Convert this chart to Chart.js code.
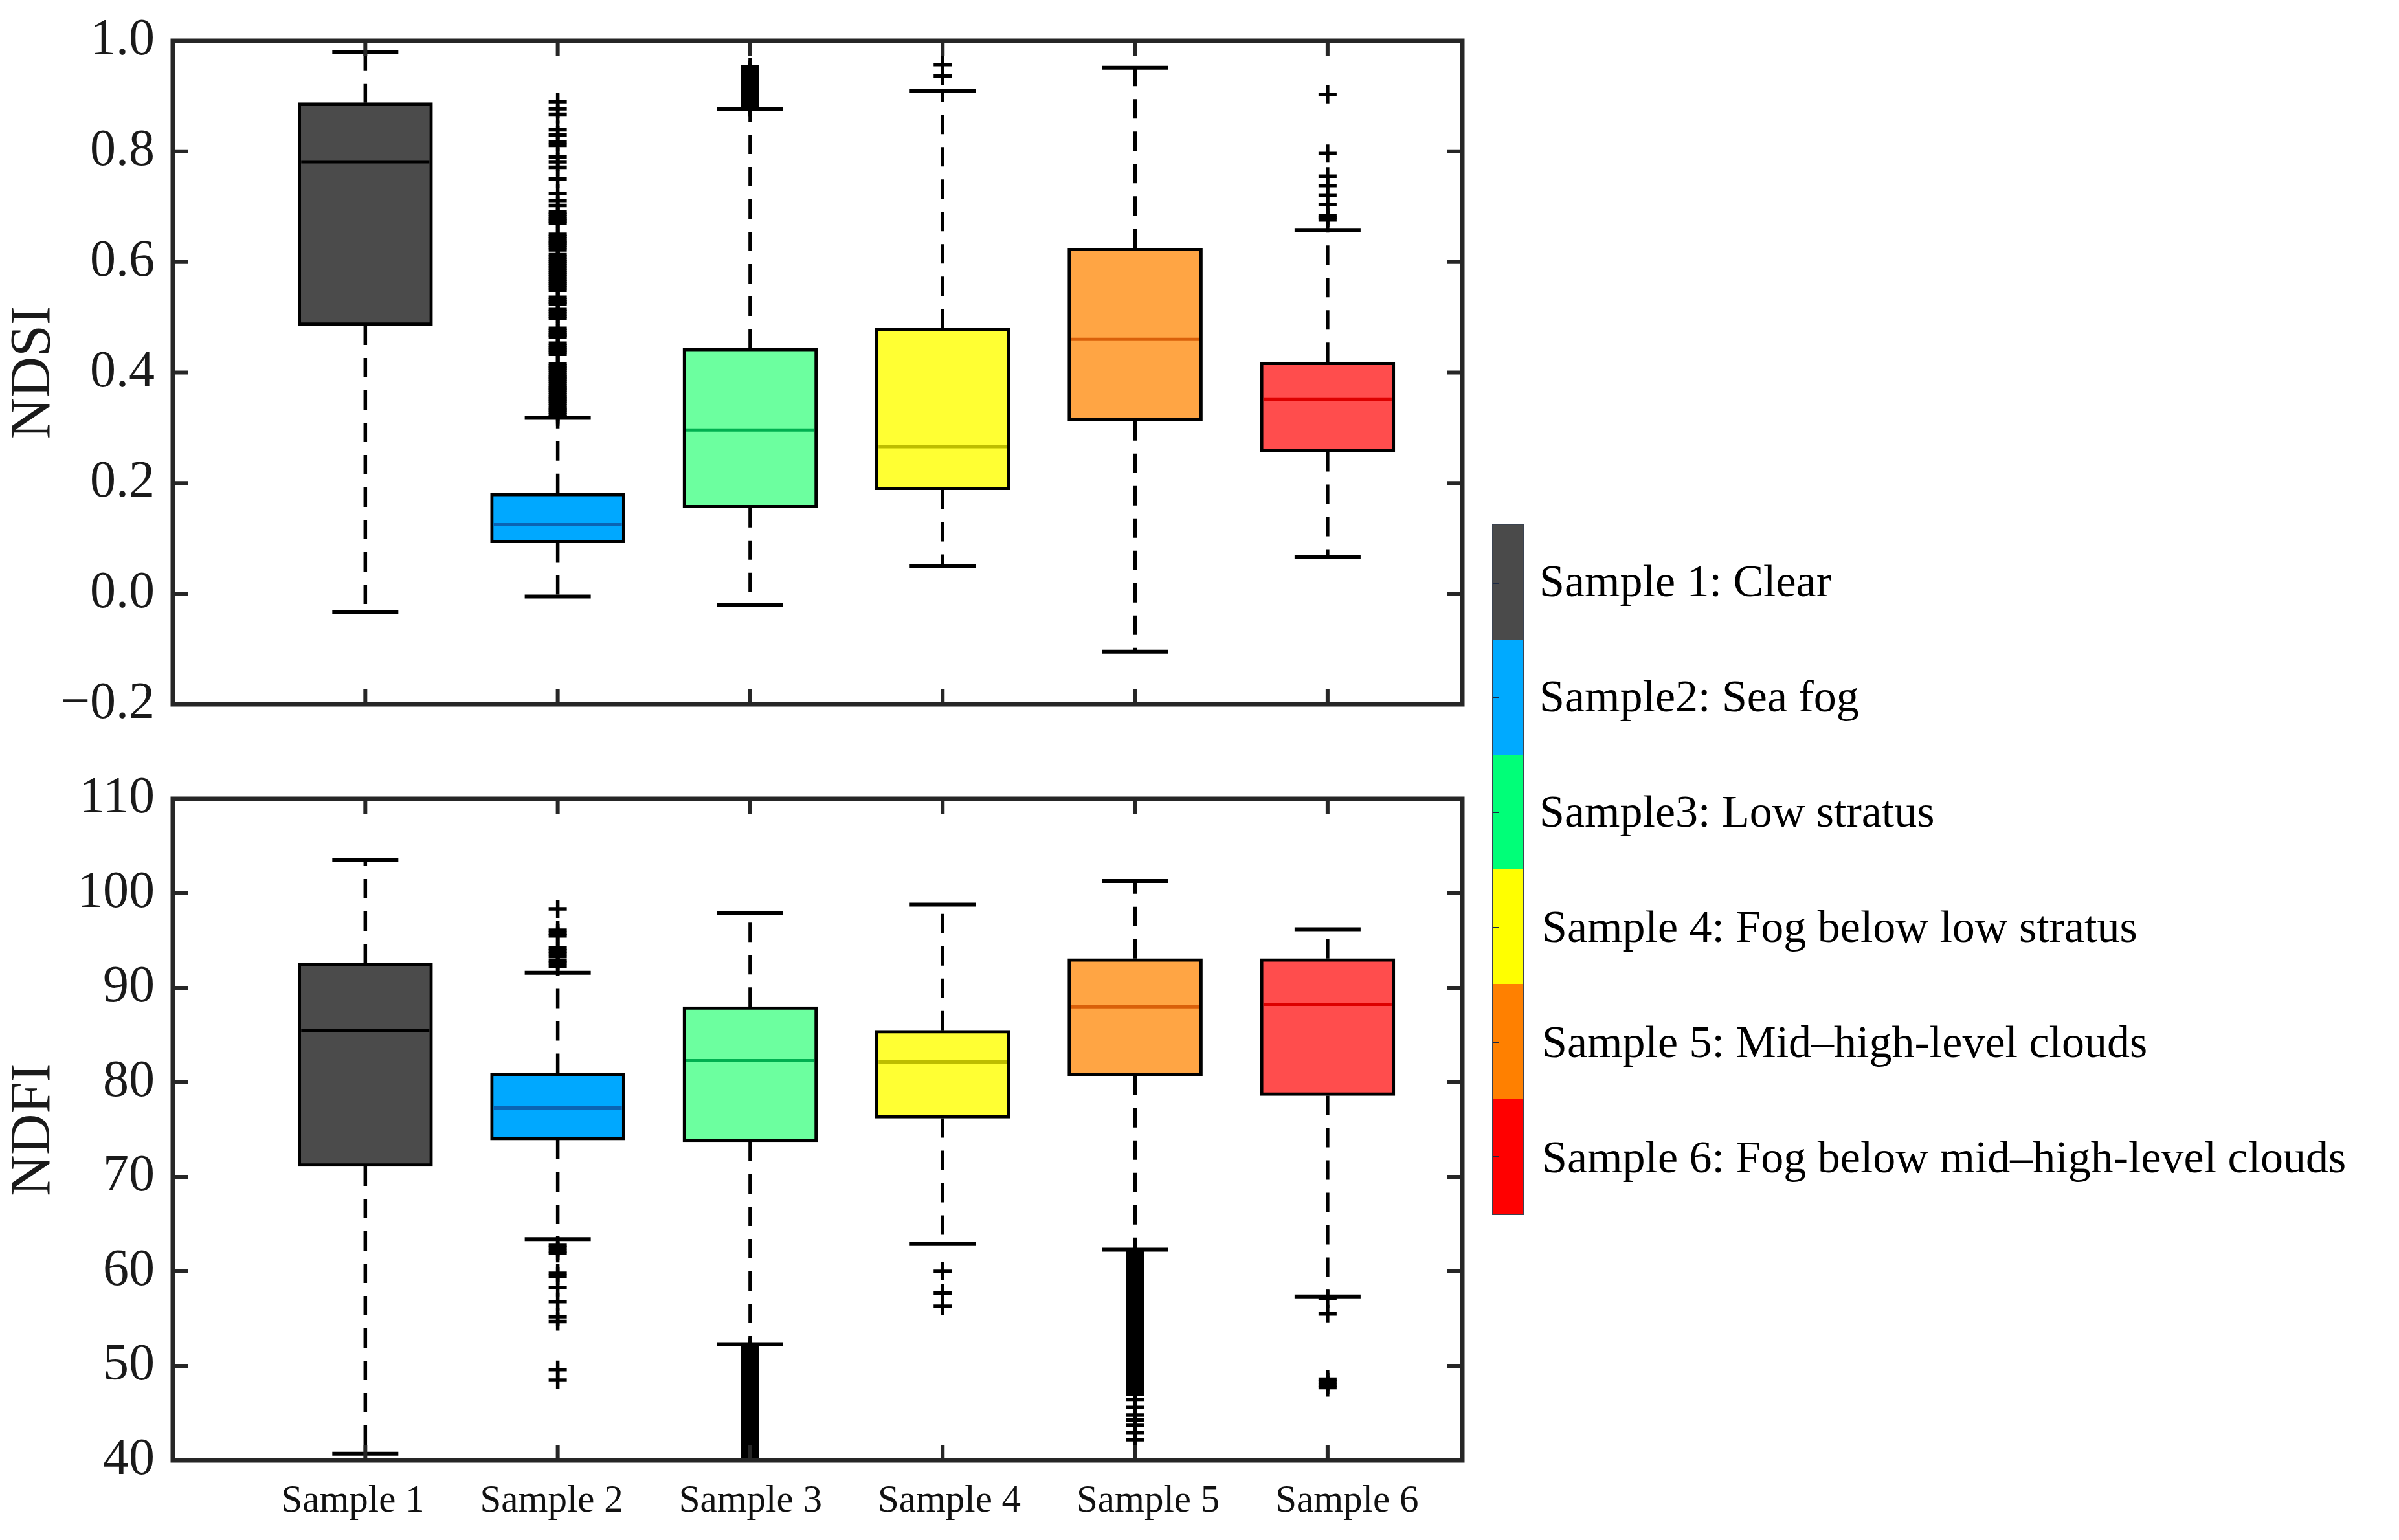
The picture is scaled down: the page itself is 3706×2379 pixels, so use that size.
<!DOCTYPE html>
<html>
<head>
<meta charset="utf-8">
<script src="https://cdn.jsdelivr.net/npm/chart.js@4.4.1/dist/chart.umd.min.js"></script>
<style>
  body { margin: 0; background: #fff; width: 3706px; height: 2379px; position: relative; overflow: hidden; font-family: 'Liberation Serif', 'Times New Roman', serif; }
  #ndsi { position: absolute; left: 0; top: -100px; }
  #ndfi { position: absolute; left: 0; top: 1130px; }
  #cbar { position: absolute; left: 2305px; top: 809px; width: 49px; height: 1068px; border: 2px solid #3b4350; box-sizing: border-box; display: flex; flex-direction: column; }
  .seg { flex: 1; position: relative; }
  .seg::after { content: ''; position: absolute; left: 0; top: 50%; width: 8px; height: 2px; background: #1c2a44; }
  .lab { position: absolute; left: 2378px; height: 178px; line-height: 178px; font-size: 70px; white-space: nowrap; color: #000; font-family: 'Liberation Serif', serif; }
</style>
</head>
<body>
<canvas id="ndsi" width="2450" height="1330"></canvas>
<canvas id="ndfi" width="2450" height="1249"></canvas>
<div id="cbar"></div>

<script>
// categories and legend
const categories = ['Sample 1', 'Sample 2', 'Sample 3', 'Sample 4', 'Sample 5', 'Sample 6'];
const legendLabels = ['Sample 1: Clear', 'Sample2: Sea fog', 'Sample3: Low stratus',
  'Sample 4: Fog below low stratus', 'Sample 5: Mid\u2013high-level clouds',
  'Sample 6: Fog below mid\u2013high-level clouds'];

// NDSI box stats
const ndsiLow  = [-0.033, -0.005, -0.020, 0.050, -0.105, 0.067];
const ndsiQ1   = [0.485, 0.092, 0.155, 0.188, 0.312, 0.256];
const ndsiMed  = [0.781, 0.125, 0.296, 0.266, 0.460, 0.351];
const ndsiQ3   = [0.888, 0.182, 0.444, 0.480, 0.625, 0.419];
const ndsiHigh = [0.979, 0.318, 0.876, 0.910, 0.951, 0.658];
const ndsiOut = [
  [],
  [0.320, 0.324, 0.328, 0.332, 0.336, 0.340, 0.344, 0.348, 0.352, 0.356, 0.360, 0.364, 0.368,
   0.372, 0.376, 0.380, 0.384, 0.388, 0.392, 0.396, 0.400, 0.404, 0.408, 0.412, 0.416,
   0.433, 0.437, 0.441, 0.445, 0.449, 0.453,
   0.464, 0.468, 0.472, 0.476, 0.480,
   0.498, 0.502, 0.506, 0.510, 0.514,
   0.524, 0.528, 0.532, 0.536,
   0.549, 0.553, 0.557, 0.561, 0.565, 0.569, 0.573, 0.577, 0.581, 0.585, 0.589, 0.593, 0.597,
   0.601, 0.605, 0.609, 0.613,
   0.622, 0.626, 0.630, 0.634, 0.638, 0.642, 0.646, 0.650,
   0.670, 0.674, 0.678, 0.682, 0.686, 0.690,
   0.702, 0.711, 0.724, 0.750, 0.771, 0.781, 0.790, 0.811, 0.817, 0.830, 0.839, 0.867, 0.877, 0.890],
  [0.880, 0.884, 0.888, 0.892, 0.896, 0.900, 0.904, 0.908, 0.912, 0.916, 0.920, 0.924, 0.928,
   0.932, 0.936, 0.940, 0.944, 0.948, 0.953],
  [0.936, 0.957],
  [],
  [0.676, 0.680, 0.684, 0.704, 0.721, 0.738, 0.755, 0.796, 0.903]
];
const ndsiTicks = [-0.2, 0, 0.2, 0.4, 0.6, 0.8, 1.0];

// NDFI box stats
const ndfiLow  = [40.7, 63.4, 52.3, 62.9, 62.3, 57.35];
const ndfiQ1   = [71.1, 73.9, 73.7, 76.2, 80.7, 78.6];
const ndfiMed  = [85.5, 77.3, 82.3, 82.15, 88.0, 88.25];
const ndfiQ3   = [92.6, 81.0, 88.0, 85.5, 93.1, 93.1];
const ndfiHigh = [103.5, 91.6, 97.9, 98.8, 101.3, 96.2];
const ndfiOut = [
  [],
  [98.35, 96.1, 95.8, 95.5, 94.2, 93.9, 93.6, 93.3, 92.9, 92.6, 92.3,
   62.8, 62.5, 62.2, 61.9, 59.8, 59.5, 58.3, 56.8, 55.2, 54.7, 49.6, 48.5],
  [52, 51.75, 51.5, 51.25, 51, 50.75, 50.5, 50.25, 50, 49.75, 49.5, 49.25, 49, 48.75, 48.5,
   48.25, 48, 47.75, 47.5, 47.25, 47, 46.75, 46.5, 46.25, 46, 45.75, 45.5, 45.25, 45, 44.75,
   44.5, 44.25, 44, 43.75, 43.5, 43.25, 43, 42.75, 42.5, 42.25, 42, 41.75, 41.5, 41.25, 41,
   40.75, 40.5, 40.25, 40, 39.75, 39.5],
  [60.0, 57.7, 56.3],
  [62, 61.75, 61.5, 61.25, 61, 60.75, 60.5, 60.25, 60, 59.75, 59.5, 59.25, 59, 58.75, 58.5,
   58.25, 58, 57.75, 57.5, 57.25, 57, 56.75, 56.5, 56.25, 56, 55.75, 55.5, 55.25, 55, 54.75,
   54.5, 54.25, 54, 53.75, 53.5, 53.25, 53, 52.75, 52.5, 52.25, 52, 51.75, 51.5, 51.25, 51,
   50.75, 50.5, 50.25, 50, 49.75, 49.5, 49.25, 49, 48.75, 48.5, 48.25, 48, 47.75, 47.5, 47.25, 47,
   46.4, 45.6, 44.8, 44.3, 43.7, 42.9, 42.2],
  [57.1, 55.5, 48.6, 48.3, 48.0, 47.7]
];
const ndfiTicks = [40, 50, 60, 70, 80, 90, 100, 110];

// colours
const barColors = ['#4a4a4a', '#00aaff', '#00ff78', '#ffff00', '#ff8000', '#ff0000'];
const boxFill = ['#4b4b4b', '#00a8ff', '#6cff9f', '#ffff33', '#ffa544', '#ff4d4d'];
const medianColors = ['#000000', '#0a64b4', '#00b050', '#bdbd00', '#d9600a', '#dd0000'];

Chart.defaults.font.family = "'Liberation Serif', 'Times New Roman', serif";
Chart.defaults.color = '#1a1a1a';

// frame + inward ticks, like matlab
const framePlugin = {
  id: 'frame',
  afterDatasetsDraw(chart) {
    const {ctx, chartArea: a, scales: {x, y}} = chart;
    ctx.save();
    ctx.strokeStyle = '#262626';
    ctx.lineWidth = 6;
    ctx.beginPath();
    y.ticks.forEach(t => {
      const py = y.getPixelForValue(t.value);
      ctx.moveTo(a.left, py); ctx.lineTo(a.left + 23, py);
      ctx.moveTo(a.right, py); ctx.lineTo(a.right - 23, py);
    });
    categories.forEach((c, i) => {
      const px = x.getPixelForValue(i + 1);
      ctx.moveTo(px, a.top); ctx.lineTo(px, a.top + 23);
      ctx.moveTo(px, a.bottom); ctx.lineTo(px, a.bottom - 23);
    });
    ctx.stroke();
    ctx.lineWidth = 7;
    ctx.strokeRect(a.left, a.top, a.right - a.left, a.bottom - a.top);
    ctx.restore();
  }
};

function boxDatasets(low, q1, med, q3, high, out) {
  const pos = categories.map((c, i) => i + 1);
  const whisk = [];
  const caps = [];
  pos.forEach((x, i) => {
    whisk.push({x, y: q3[i]}, {x, y: high[i]}, {x, y: null},
               {x, y: q1[i]}, {x, y: low[i]}, {x, y: null});
    caps.push({x, y: low[i]}, {x, y: high[i]});
  });
  const outs = [];
  out.forEach((list, i) => list.forEach(v => outs.push({x: i + 1, y: v})));

  return [
    { type: 'bar', data: pos.map((x, i) => ({x, y: [q1[i], q3[i]]})),
      backgroundColor: boxFill, borderColor: '#000', borderWidth: 5, borderSkipped: false,
      barThickness: 208, grouped: false, order: 5 },
    { type: 'line', data: whisk, borderColor: '#000', borderWidth: 5.5, borderDash: [30, 20],
      pointRadius: 0, spanGaps: false, fill: false, tension: 0, order: 4 },
    { type: 'scatter', data: caps, pointStyle: 'line', pointRadius: 51,
      pointBorderWidth: 6, pointBorderColor: '#000', order: 3 },
    { type: 'scatter', data: pos.map((x, i) => ({x, y: med[i]})), pointStyle: 'line', pointRadius: 99,
      pointBorderWidth: 5, pointBorderColor: medianColors, order: 2 },
    { type: 'scatter', data: outs, pointStyle: 'cross', pointRadius: 14,
      pointBorderWidth: 5.5, pointBorderColor: '#000', clip: 0, order: 1 }
  ];
}

function makeOptions(yMin, yMax, yTicks, yTitle, fmt, showX, pad) {
  return {
    responsive: false,
    animation: false,
    events: [],
    devicePixelRatio: 1,
    layout: { padding: pad },
    plugins: { legend: { display: false }, tooltip: { enabled: false } },
    scales: {
      x: {
        type: 'linear', min: 0, max: 6.7, offset: false, display: false
      },
      // label axis: the sample names sit a little wider apart than the boxes
      xl: {
        type: 'linear', position: 'bottom', min: 0.095, max: 6.58, offset: false, display: showX,
        grid: { display: false, drawTicks: false }, border: { display: false },
        afterBuildTicks: s => { s.ticks = categories.map((c, i) => ({value: i + 1})); },
        afterFit: s => { if (showX) s.height = 123; },
        ticks: { autoSkip: false, maxRotation: 0, padding: 28, font: { size: 59 },
                 color: '#111', callback: (v, i) => categories[i] }
      },
      y: {
        min: yMin, max: yMax,
        grid: { display: false, drawTicks: false }, border: { display: false },
        afterBuildTicks: s => { s.ticks = yTicks.map(v => ({value: v})); },
        afterFit: s => { s.width = 267; },
        ticks: { padding: 28, font: { size: 80 }, color: '#1a1a1a', callback: v => fmt(v) },
        title: { display: true, text: yTitle, font: { size: 88 }, padding: 0, color: '#1a1a1a' }
      }
    }
  };
}

// nudge layout padding until the plot area sits where the figure has it
function placeArea(chart, target) {
  for (let k = 0; k < 4; k++) {
    const a = chart.chartArea;
    const p = chart.config.options.layout.padding;
    chart.config.options.layout.padding = {
      top: p.top + (target.top - a.top),
      bottom: p.bottom + (a.bottom - target.bottom),
      left: p.left + (target.left - a.left),
      right: p.right + (a.right - target.right)
    };
    chart.update();
  }
}

const fmtNdsi = v => (v < 0 ? '\u2212' : '') + Math.abs(v).toFixed(1);
const fmtNdfi = v => String(Math.round(v));

// top canvas sits 100px above the page, bottom canvas starts at 1130
const topChart = new Chart(document.getElementById('ndsi'), {
  type: 'bar',
  data: { datasets: boxDatasets(ndsiLow, ndsiQ1, ndsiMed, ndsiQ3, ndsiHigh, ndsiOut) },
  options: makeOptions(-0.2, 1.0, ndsiTicks, 'NDSI', fmtNdsi, false,
                       {top: 163, right: 191, bottom: 142, left: 0}),
  plugins: [framePlugin]
});
placeArea(topChart, {left: 267, right: 2259, top: 163, bottom: 1188});

const bottomChart = new Chart(document.getElementById('ndfi'), {
  type: 'bar',
  data: { datasets: boxDatasets(ndfiLow, ndfiQ1, ndfiMed, ndfiQ3, ndfiHigh, ndfiOut) },
  options: makeOptions(40, 110, ndfiTicks, 'NDFI', fmtNdfi, true,
                       {top: 100, right: 191, bottom: 0, left: 0}),
  plugins: [framePlugin]
});
placeArea(bottomChart, {left: 267, right: 2259, top: 100, bottom: 1126});

// colour bar legend
const cbar = document.getElementById('cbar');
barColors.forEach(c => {
  const seg = document.createElement('div');
  seg.className = 'seg';
  seg.style.background = c;
  cbar.appendChild(seg);
});
legendLabels.forEach((t, i) => {
  const lab = document.createElement('div');
  lab.className = 'lab';
  lab.textContent = t;
  lab.style.top = (809 + i * 178) + 'px';
  if (i > 2) lab.style.left = '2382px';
  document.body.appendChild(lab);
});
</script>
</body>
</html>
